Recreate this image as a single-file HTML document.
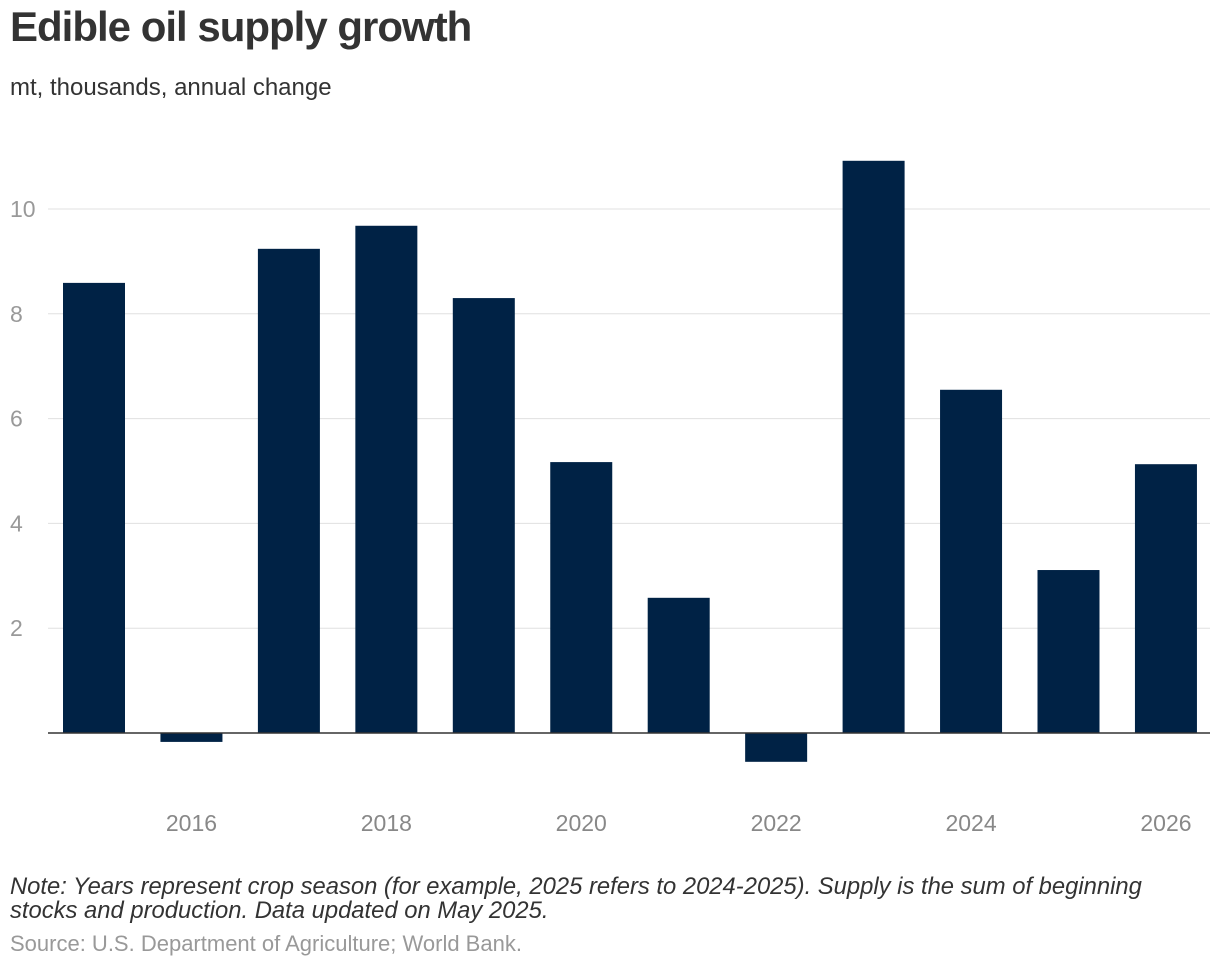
<!DOCTYPE html>
<html><head><meta charset="utf-8"><style>
body{margin:0;width:1220px;height:968px;background:#fff;font-family:"Liberation Sans",Arial,sans-serif;overflow:hidden;position:relative}
.t{position:absolute;left:10px;top:3px;font-size:42px;font-weight:bold;color:#333;letter-spacing:-1px}
.s{position:absolute;left:10px;top:74px;font-size:24px;color:#333}
.n{position:absolute;left:10px;top:875px;font-size:23.8px;font-style:italic;color:#333;line-height:24px;width:1165px}
.src{position:absolute;left:10px;top:931px;font-size:22px;color:#999}
svg{position:absolute;left:0;top:0}
</style></head><body>
<div class="t">Edible oil supply growth</div>
<div class="s">mt, thousands, annual change</div>
<svg id="c" width="1220" height="968"></svg>
<div class="n">Note: Years represent crop season (for example, 2025 refers to 2024-2025). Supply is the sum of beginning stocks and production. Data updated on May 2025.</div>
<div class="src">Source: U.S. Department of Agriculture; World Bank.</div>
<script>
const years=[2015,2016,2017,2018,2019,2020,2021,2022,2023,2024,2025,2026];
const values=[8.59,-0.17,9.24,9.68,8.30,5.17,2.58,-0.55,10.92,6.55,3.11,5.13];
const yTicks=[2,4,6,8,10];
const xTicks=[2016,2018,2020,2022,2024,2026];
const ns="http://www.w3.org/2000/svg",svg=document.getElementById('c');
const y=v=>733-v*52.4, x=yr=>94+(yr-2015)*97.45, bw=62;
function mk(t,a){const e=document.createElementNS(ns,t);for(const k in a)e.setAttribute(k,a[k]);svg.appendChild(e);return e;}
yTicks.forEach(v=>{
 const g=mk('line',{x1:48,x2:1210,y1:y(v),y2:y(v),stroke:'#e0e0e0','stroke-width':1});
 
 
 const t=mk('text',{x:10,y:y(v)+8,'font-size':23,fill:'#999'});t.textContent=v;
 
 
});
years.forEach((yr,i)=>{
 const v=values[i];
 const r=mk('rect',{x:x(yr)-bw/2,y:Math.min(y(v),y(0)),width:bw,height:Math.abs(y(v)-y(0)),fill:'#002245'});
 
 
});
const z=mk('line',{x1:48,x2:1210,y1:y(0),y2:y(0),stroke:'#333','stroke-width':1.5});


xTicks.forEach(yr=>{
 const t=mk('text',{x:x(yr),y:831,'font-size':23,fill:'#888','text-anchor':'middle'});t.textContent=yr;
 
 
});
</script>
</body></html>
